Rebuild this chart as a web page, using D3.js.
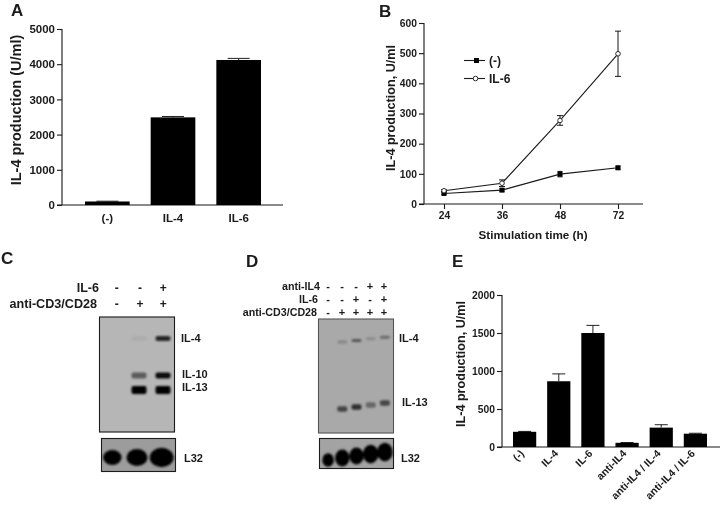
<!DOCTYPE html>
<html><head><meta charset="utf-8">
<script src="https://cdn.jsdelivr.net/npm/d3@7/dist/d3.min.js"></script>
<style>
html,body{margin:0;padding:0;background:#fff}
svg{display:block}
text{font-family:"Liberation Sans",Arial,sans-serif;font-weight:bold;fill:#1a1a1a}
</style></head><body>
<svg id="c" width="720" height="506"></svg>
<script>
// Panel A
const aCats = ["(-)", "IL-4", "IL-6"];
const aVals = [100, 2490, 4120];
const aErrs = [8, 25, 45];
const aTicks = [0, 1000, 2000, 3000, 4000, 5000];
// Panel B
const bTimes = ["24", "36", "48", "72"];
const bCtrl = [35, 46, 99, 120];
const bCtrlErr = [3, 4, 9, 5];
const bIL6 = [44, 69, 277, 498];
const bIL6Err = [3, 11, 16, 75];
const bTicks = [0, 100, 200, 300, 400, 500, 600];
// Panel E
const eCats = ["(-)", "IL-4", "IL-6", "anti-IL4", "anti-IL4 / IL-4", "anti-IL4 / IL-6"];
const eVals = [200, 865, 1500, 55, 255, 175];
const eErrs = [5, 97, 100, 4, 38, 6];
const eTicks = [0, 500, 1000, 1500, 2000];
// Panel C blot (band strength per lane)
const cLanes = ["1", "2", "3"];
const cGenes = ["IL-4", "IL-10", "IL-13"];
const cIL4 = [0, 0.05, 0.8];
const cIL10 = [0, 0.5, 0.95];
const cIL13 = [0, 1, 1];
const cL32 = [0.88, 1, 1.14];
const cRow1 = ["-", "-", "+"];
const cRow2 = ["-", "+", "+"];
// Panel D blot
const dLanes = ["1", "2", "3", "4", "5"];
const dGenes = ["IL-4", "IL-13"];
const dIL4 = [0, 0.22, 0.5, 0.18, 0.38];
const dIL13 = [0, 0.6, 0.72, 0.4, 0.6];
const dL32 = [0.8, 1, 1, 1.08, 1.08];
const dRow1 = ["-", "-", "-", "+", "+"];
const dRow2 = ["-", "-", "+", "-", "+"];
const dRow3 = ["-", "+", "+", "+", "+"];

const svg = d3.select("#c");
const ink = "#1a1a1a";
const defs = svg.append("defs");
defs.append("filter").attr("id","b1").attr("x","-30%").attr("y","-80%").attr("width","160%").attr("height","260%")
  .append("feGaussianBlur").attr("stdDeviation","1");
defs.append("filter").attr("id","b2").attr("x","-30%").attr("y","-30%").attr("width","160%").attr("height","160%")
  .append("feGaussianBlur").attr("stdDeviation","1");
defs.append("filter").attr("id","soft").attr("x","-5%").attr("y","-5%").attr("width","110%").attr("height","110%")
  .append("feGaussianBlur").attr("stdDeviation","0.35");
const root = svg.append("g").attr("filter","url(#soft)");

function label(x, y, t, size, anchor, rot) {
  const n = root.append("text").attr("font-size", size).attr("text-anchor", anchor || "start").text(t);
  if (rot != null) n.attr("transform", `translate(${x},${y}) rotate(${rot})`);
  else n.attr("x", x).attr("y", y);
  return n;
}
function styleAxis(g, size) {
  g.selectAll("path,line").attr("stroke", ink).attr("stroke-width", 1.1);
  g.selectAll("text").attr("font-size", size).style("font-family", '"Liberation Sans",Arial,sans-serif').style("font-weight","bold").attr("fill", ink);
}
function barPanel(cfg) {
  const x = d3.scaleBand().domain(cfg.cats).range(cfg.xr).paddingInner(cfg.pi).paddingOuter(0);
  const y = d3.scaleLinear().domain([0, cfg.max]).range(cfg.yr);
  const g = root.append("g");
  const gy = g.append("g").attr("transform", `translate(${cfg.x0},0)`)
    .call(d3.axisLeft(y).tickValues(cfg.ticks).tickFormat(d3.format("d")).tickSize(5).tickPadding(2).tickSizeOuter(0));
  gy.select("path").attr("d", `M0,${cfg.yr[0]}V${cfg.yr[1]}`);
  styleAxis(gy, cfg.fs);
  const gx = g.append("g").attr("transform", `translate(0,${cfg.yr[0]})`)
    .call(d3.axisBottom(x).tickSize(0).tickPadding(cfg.tp));
  gx.select("path").attr("d", `M${cfg.x0 - 5},0H${cfg.xEnd}`);
  styleAxis(gx, cfg.fs);
  if (cfg.rot) gx.selectAll("text").attr("text-anchor","end").attr("x",-5).attr("y",1.5).attr("dy","0.35em").attr("transform","rotate(-45)").attr("font-size", cfg.rot);
  g.selectAll(".e").data(cfg.vals).join("path")
    .attr("d",(d,i)=>{const c=x(cfg.cats[i])+x.bandwidth()/2, t=y(d+cfg.errs[i]), w=cfg.cap;
      return `M${c},${y(d)}V${t}M${c-w},${t}H${c+w}`;})
    .attr("stroke","#222").attr("stroke-width",1).attr("fill","none");
  g.selectAll(".bar").data(cfg.vals).join("rect")
    .attr("x", (d,i)=>x(cfg.cats[i])).attr("width", x.bandwidth())
    .attr("y", d=>y(d)).attr("height", d=>y(0)-y(d)).attr("fill","#000");
}

// A
barPanel({cats:aCats, vals:aVals, errs:aErrs, ticks:aTicks, max:5000, xr:[85,261], pi:0.32,
  yr:[205,29], x0:62, xEnd:283, fs:11.5, tp:9, cap:11});
label(11, 16, "A", 17);
label(21, 110, "IL-4 production (U/ml)", 14.5, "middle", -90);

// B
(function(){
  const x = d3.scalePoint().domain(bTimes).range([444,618]);
  const y = d3.scaleLinear().domain([0,600]).range([204,23]);
  const gy = root.append("g").attr("transform","translate(424,0)")
    .call(d3.axisLeft(y).tickValues(bTicks).tickSize(5).tickPadding(2).tickSizeOuter(0));
  gy.select("path").attr("d","M0,204V23");
  styleAxis(gy, 10.3);
  const gx = root.append("g").attr("transform","translate(0,204)")
    .call(d3.axisBottom(x).tickSize(5).tickPadding(3));
  gx.select("path").attr("d","M419,0H643");
  styleAxis(gx, 10.3);
  const line = d3.line().x((d,i)=>x(bTimes[i])).y(d=>y(d));
  root.append("path").attr("d",line(bCtrl)).attr("fill","none").attr("stroke",ink).attr("stroke-width",1.1);
  root.append("path").attr("d",line(bIL6)).attr("fill","none").attr("stroke",ink).attr("stroke-width",1.1);
  function errs(vals, es, cap){
    root.append("g").selectAll("path").data(vals).join("path")
      .attr("d",(d,i)=>{const c=x(bTimes[i]),a=y(d-es[i]),b=y(d+es[i]);return `M${c},${a}V${b}M${c-cap},${a}H${c+cap}M${c-cap},${b}H${c+cap}`;})
      .attr("stroke",ink).attr("stroke-width",1).attr("fill","none");
  }
  errs(bIL6,bIL6Err,3); errs(bCtrl,bCtrlErr,2.5);
  root.append("g").selectAll("rect").data(bCtrl).join("rect")
    .attr("x",(d,i)=>x(bTimes[i])-2.5).attr("y",d=>y(d)-2.5).attr("width",5).attr("height",5).attr("fill","#000");
  root.append("g").selectAll("circle").data(bIL6).join("circle")
    .attr("cx",(d,i)=>x(bTimes[i])).attr("cy",d=>y(d)).attr("r",2.3).attr("fill","#fff").attr("stroke",ink).attr("stroke-width",0.9);
  // legend
  root.append("path").attr("d","M464,60.5H485").attr("stroke",ink).attr("stroke-width",1.1);
  root.append("rect").attr("x",474).attr("y",58).attr("width",5).attr("height",5).attr("fill","#000");
  root.append("path").attr("d","M464,78.5H485").attr("stroke",ink).attr("stroke-width",1.1);
  root.append("circle").attr("cx",475.5).attr("cy",78.5).attr("r",2.3).attr("fill","#fff").attr("stroke",ink).attr("stroke-width",0.9);
  label(489, 65, "(-)", 12);
  label(489, 83, "IL-6", 12);
  label(379, 17, "B", 17);
  label(395, 108, "IL-4 production, U/ml", 12.6, "middle", -90);
  label(533, 239, "Stimulation time (h)", 11.7, "middle");
})();

// E
barPanel({cats:eCats, vals:eVals, errs:eErrs, ticks:eTicks, max:2000, xr:[513,707], pi:0.32,
  yr:[447,295], x0:502, xEnd:720, fs:10.3, tp:7, cap:6.5, rot:10.5});
label(452, 267, "E", 17);
label(465, 364, "IL-4 production, U/ml", 12.6, "middle", -90);

// Blots
function blot(cfg){
  const x = d3.scaleBand().domain(cfg.lanes).range(cfg.xr);
  const mx = d3.scaleBand().domain(cfg.lanes).range(cfg.mxr);
  const g = root.append("g");
  g.append("rect").attr("x",cfg.box[0]).attr("y",cfg.box[1]).attr("width",cfg.box[2]).attr("height",cfg.box[3])
    .attr("fill",cfg.bg).attr("stroke",cfg.edge).attr("stroke-width",1.1);
  const bands = g.append("g").attr("filter","url(#b1)");
  cfg.rows.forEach(r=>{
    bands.selectAll(null).data(r.vals).join("rect")
      .attr("x",(d,i)=>x(cfg.lanes[i])+x.bandwidth()/2-cfg.bw/2).attr("width",cfg.bw)
      .attr("y",(d,i)=>r.y-r.h/2-(r.tilt||0)*(i-1)).attr("height",r.h).attr("rx",2)
      .attr("fill","#050505").attr("opacity",d=>d);
  });
  const lx = d3.scaleBand().domain(cfg.lanes).range(cfg.lxr);
  g.append("rect").attr("x",cfg.lbox[0]).attr("y",cfg.lbox[1]).attr("width",cfg.lbox[2]).attr("height",cfg.lbox[3])
    .attr("fill",cfg.lbg).attr("stroke",ink).attr("stroke-width",1.1);
  g.append("g").attr("filter","url(#b2)").selectAll("ellipse").data(cfg.l32).join("ellipse")
    .attr("cx",(d,i)=>lx(cfg.lanes[i])+lx.bandwidth()/2)
    .attr("cy",(d,i)=>cfg.ly-(cfg.ltilt||0)*i)
    .attr("rx",d=>cfg.lr*d).attr("ry",d=>cfg.lry*d).attr("fill","#020202");
  cfg.marks.forEach(m=>{
    g.selectAll(null).data(m.vals).join("text").attr("font-size",cfg.mfs).attr("text-anchor","middle")
      .attr("x",(d,i)=>mx(cfg.lanes[i])+mx.bandwidth()/2).attr("y",m.y).text(d=>d);
  });
}
blot({lanes:cLanes, xr:[103,175], mxr:[105,175], box:[99.5,317,75,115], bg:"#b6b6b6", edge:ink, bw:15,
  rows:[{vals:cIL4,y:338.5,h:5},{vals:cIL10,y:375.5,h:6},{vals:cIL13,y:390,h:8}],
  lxr:[100,174], lbox:[101.5,438.5,74,33], lbg:"#9c9c9c", l32:cL32, ly:457.5, lr:10.5, lry:8.5, mfs:12,
  marks:[{vals:cRow1,y:292},{vals:cRow2,y:308}]});
cGenes.forEach((g,i)=>label(i==0?181:182,[342,378,391][i],g,11));
label(1, 264, "C", 17);
label(99, 292, "IL-6", 12.5, "end");
label(97, 308, "anti-CD3/CD28", 12.6, "end");
label(184, 462, "L32", 11);

blot({lanes:dLanes, xr:[321,392], mxr:[321,391], box:[318.5,319,75,114], bg:"#a9a9a9", edge:"#555", bw:10,
  rows:[{vals:dIL4,y:342,h:3,tilt:1.6},{vals:dIL13,y:409,h:5.5,tilt:2}],
  lxr:[321,392], lbox:[319.5,438.5,74,30], lbg:"#a3a3a3", l32:dL32, ly:460, ltilt:2, lr:7.2, lry:8.5, mfs:11,
  marks:[{vals:dRow1,y:290},{vals:dRow2,y:303},{vals:dRow3,y:316}]});
dGenes.forEach((g,i)=>label(i==0?399:402,[342,406][i],g,11));
label(246, 267, "D", 17);
label(320, 290, "anti-IL4", 10.7, "end");
label(318, 303, "IL-6", 10.7, "end");
label(317, 316, "anti-CD3/CD28", 10.7, "end");
label(401, 462, "L32", 11);
</script>
</body></html>
